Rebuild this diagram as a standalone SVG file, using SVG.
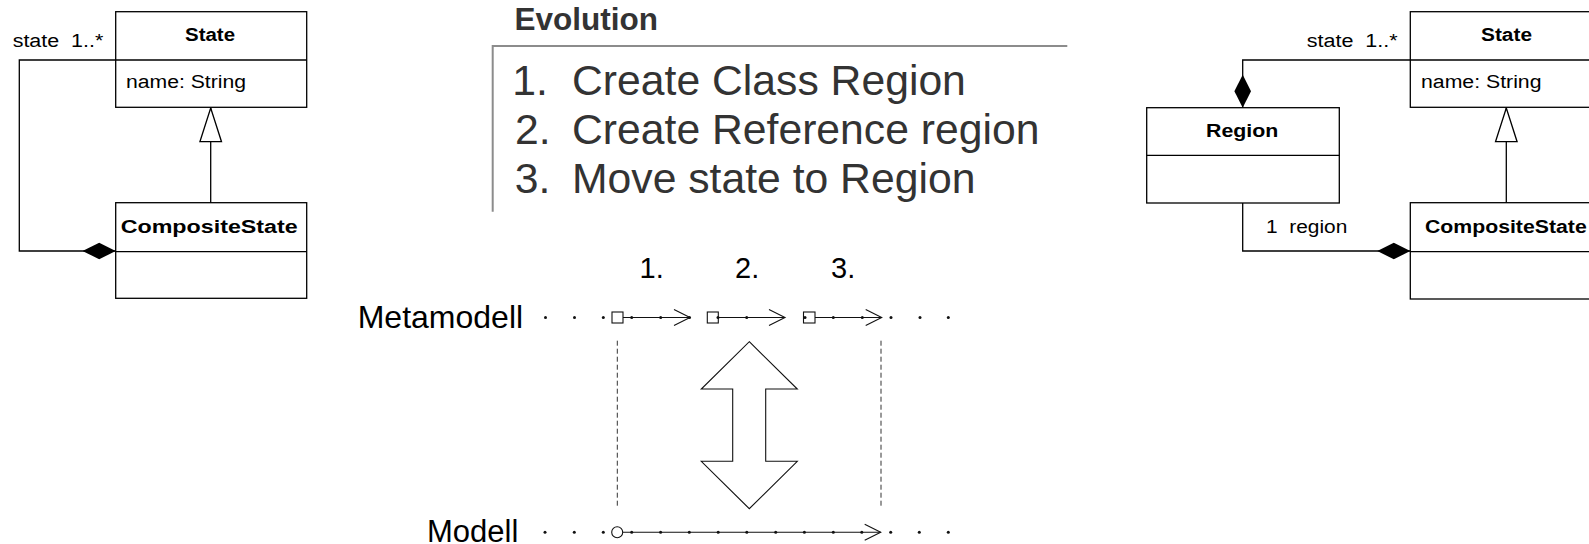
<svg xmlns="http://www.w3.org/2000/svg" width="1589" height="544" viewBox="0 0 1589 544">
  <style>
    .box { fill: #fff; stroke: #000; stroke-width: 1.3; }
    .sep { stroke: #000; stroke-width: 1.3; }
    .uml { font-family: "Liberation Sans", Arial, sans-serif; font-size: 18px; fill: #000; }
    .bold { font-weight: bold; }
    .lbl { white-space: pre; }
    .assoc { fill: none; stroke: #000; stroke-width: 1.3; }
    .slide { font-family: "Liberation Sans", Arial, sans-serif; fill: #333; }
    .rule { fill: none; stroke: #8c8c8c; stroke-width: 2; }
    .tl { font-family: "Liberation Sans", Arial, sans-serif; fill: #000; }
    .track { fill: none; stroke: #111; stroke-width: 1.1; }
    .dot { fill: #111; }
    .node { fill: #fff; stroke: #111; stroke-width: 1.1; }
    .guide { fill: none; stroke: #333; stroke-width: 1; stroke-dasharray: 5 3; }
  </style>
  <defs>
    <marker id="diamond" markerUnits="userSpaceOnUse" viewBox="0 -9 34 18" refX="33" refY="0" markerWidth="34" markerHeight="18" orient="auto">
      <path d="M0,0 L16.5,-8.3 L33,0 L16.5,8.3 Z" fill="#000"/>
    </marker>
    <marker id="hollowTri" markerUnits="userSpaceOnUse" viewBox="-1 -12 36 24" refX="33.7" refY="0" markerWidth="36" markerHeight="24" orient="auto">
      <path d="M0,-10.8 L33.7,0 L0,10.8 Z" fill="#fff" stroke="#000" stroke-width="1.3"/>
    </marker>
    <marker id="openHead" markerUnits="userSpaceOnUse" viewBox="-1 -10 19 20" refX="16" refY="0" markerWidth="19" markerHeight="20" orient="auto">
      <path d="M0,-8 L16,0 L0,8" fill="none" stroke="#111" stroke-width="1.1"/>
    </marker>
  </defs>

  <!-- Left class diagram -->
  <g id="left-state">
    <rect class="box" x="115.7" y="11.7" width="191" height="95.6"/>
    <line class="sep" x1="115.7" y1="60" x2="306.7" y2="60"/>
    <text class="uml bold" x="185" y="41" textLength="50" lengthAdjust="spacingAndGlyphs">State</text>
    <text class="uml" x="126" y="87.5" textLength="120" lengthAdjust="spacingAndGlyphs">name: String</text>
  </g>
  <g id="left-composite">
    <rect class="box" x="115.7" y="202.7" width="191" height="95.6"/>
    <line class="sep" x1="115.7" y1="251.7" x2="306.7" y2="251.7"/>
    <text class="uml bold" x="120.7" y="233.3" textLength="177" lengthAdjust="spacingAndGlyphs">CompositeState</text>
  </g>

  <!-- Right class diagram -->
  <g id="right-region">
    <rect class="box" x="1146.7" y="107.7" width="192.6" height="95.3"/>
    <line class="sep" x1="1146.7" y1="155.3" x2="1339.3" y2="155.3"/>
    <text class="uml bold" x="1206" y="137.3" textLength="72.3" lengthAdjust="spacingAndGlyphs">Region</text>
  </g>
  <g id="right-state">
    <rect class="box" x="1410.3" y="11.7" width="191" height="95.6"/>
    <line class="sep" x1="1410.3" y1="60" x2="1601.3" y2="60"/>
    <text class="uml bold" x="1481" y="41" textLength="51" lengthAdjust="spacingAndGlyphs">State</text>
    <text class="uml" x="1421" y="87.5" textLength="120.5" lengthAdjust="spacingAndGlyphs">name: String</text>
  </g>
  <g id="right-composite">
    <rect class="box" x="1410.3" y="202.7" width="191" height="96.3"/>
    <line class="sep" x1="1410.3" y1="251.7" x2="1601.3" y2="251.7"/>
    <text class="uml bold" x="1425" y="233.3" textLength="161.7" lengthAdjust="spacingAndGlyphs">CompositeState</text>
  </g>

  <!-- Associations and generalizations -->
  <g id="connectors">
    <path class="assoc" d="M115.7,60 H19.3 V251 H115.7" marker-end="url(#diamond)"/>
    <path class="assoc" d="M210.7,202.7 V108" marker-end="url(#hollowTri)"/>
    <text class="uml lbl" x="12.7" y="47" textLength="90.6" lengthAdjust="spacingAndGlyphs">state  1..*</text>

    <path class="assoc" d="M1410.3,60 H1242.7 V107.7" marker-end="url(#diamond)"/>
    <path class="assoc" d="M1242.7,203 V251 H1410.3" marker-end="url(#diamond)"/>
    <path class="assoc" d="M1506.3,202.7 V108" marker-end="url(#hollowTri)"/>
    <text class="uml lbl" x="1306.7" y="47" textLength="91" lengthAdjust="spacingAndGlyphs">state  1..*</text>
    <text class="uml lbl" x="1266" y="233.3" textLength="81.3" lengthAdjust="spacingAndGlyphs">1  region</text>
  </g>

  <!-- Evolution steps -->
  <g id="evolution">
    <text class="slide bold" x="514.5" y="30" font-size="31.5">Evolution</text>
    <path class="rule" d="M1067.3,46 H492.7 V211.7"/>
    <text class="slide" x="512.2" y="95" font-size="42.7">1.</text>
    <text class="slide" x="572" y="95" font-size="42.7">Create Class Region</text>
    <text class="slide" x="515" y="143.8" font-size="42.7">2.</text>
    <text class="slide" x="572" y="143.8" font-size="42.7">Create Reference region</text>
    <text class="slide" x="514.8" y="192.5" font-size="42.7">3.</text>
    <text class="slide" x="572" y="192.5" font-size="42.7">Move state to Region</text>
  </g>

  <!-- Metamodel evolution timeline -->
  <g id="metamodel-line">
    <text class="tl" x="357.7" y="327.5" font-size="32">Metamodell</text>
    <text class="tl" x="639.5" y="278.3" font-size="29">1.</text>
    <text class="tl" x="735" y="278.3" font-size="29">2.</text>
    <text class="tl" x="831" y="278.3" font-size="29">3.</text>
    <circle class="dot" cx="545.5" cy="317.5" r="1.5"/>
    <circle class="dot" cx="574.5" cy="317.5" r="1.5"/>
    <circle class="dot" cx="603.3" cy="317.5" r="1.5"/>

    <path class="track" d="M623,317.5 H690" marker-end="url(#openHead)"/>
    <rect class="node" x="612" y="312" width="11" height="11"/>
    <circle class="dot" cx="631.7" cy="317.5" r="1.5"/>
    <circle class="dot" cx="660.7" cy="317.5" r="1.5"/>
    <circle class="dot" cx="689.5" cy="317.5" r="1.5"/>

    <path class="track" d="M718.3,317.5 H785" marker-end="url(#openHead)"/>
    <rect class="node" x="707.3" y="312" width="11" height="11"/>
    <circle class="dot" cx="718" cy="317.5" r="1.5"/>
    <circle class="dot" cx="746.7" cy="317.5" r="1.5"/>

    <path class="track" d="M815,317.5 H881.7" marker-end="url(#openHead)"/>
    <rect class="node" x="803.5" y="312" width="11.5" height="11"/>
    <circle class="dot" cx="805" cy="317.5" r="1.5"/>
    <circle class="dot" cx="833.3" cy="317.5" r="1.5"/>
    <circle class="dot" cx="862.3" cy="317.5" r="1.5"/>

    <circle class="dot" cx="891" cy="317.5" r="1.5"/>
    <circle class="dot" cx="920" cy="317.5" r="1.5"/>
    <circle class="dot" cx="948.3" cy="317.5" r="1.5"/>
  </g>

  <!-- Range guides and co-evolution arrow -->
  <g id="range-guides">
    <line class="guide" x1="617.3" y1="340.7" x2="617.3" y2="507.3"/>
    <line class="guide" x1="881" y1="340.7" x2="881" y2="507.3"/>
  </g>
  <g id="coevolution-arrow">
    <polygon points="749.3,341.7 797.3,389 765.7,389 765.7,461.3 797.3,461.3 749.3,508.7 701.3,461.3 732.7,461.3 732.7,389 701.3,389" fill="#fff" stroke="#111" stroke-width="1.1" stroke-linejoin="miter"/>
  </g>

  <!-- Model timeline -->
  <g id="model-line">
    <text class="tl" x="427" y="542" font-size="31">Modell</text>
    <circle class="dot" cx="545" cy="532.3" r="1.5"/>
    <circle class="dot" cx="574.3" cy="532.3" r="1.5"/>
    <circle class="dot" cx="603.3" cy="532.3" r="1.5"/>
    <path class="track" d="M622.7,532.3 H880.7" marker-end="url(#openHead)"/>
    <ellipse class="node" cx="617.2" cy="532.3" rx="5.5" ry="5.5"/>
    <circle class="dot" cx="631.7" cy="532.3" r="1.5"/>
    <circle class="dot" cx="660.6" cy="532.3" r="1.5"/>
    <circle class="dot" cx="689.3" cy="532.3" r="1.5"/>
    <circle class="dot" cx="718.2" cy="532.3" r="1.5"/>
    <circle class="dot" cx="746.8" cy="532.3" r="1.5"/>
    <circle class="dot" cx="775.7" cy="532.3" r="1.5"/>
    <circle class="dot" cx="804.4" cy="532.3" r="1.5"/>
    <circle class="dot" cx="833.3" cy="532.3" r="1.5"/>
    <circle class="dot" cx="861.8" cy="532.3" r="1.5"/>
    <circle class="dot" cx="890.7" cy="532.3" r="1.5"/>
    <circle class="dot" cx="919.3" cy="532.3" r="1.5"/>
    <circle class="dot" cx="948.3" cy="532.3" r="1.5"/>
  </g>
</svg>
